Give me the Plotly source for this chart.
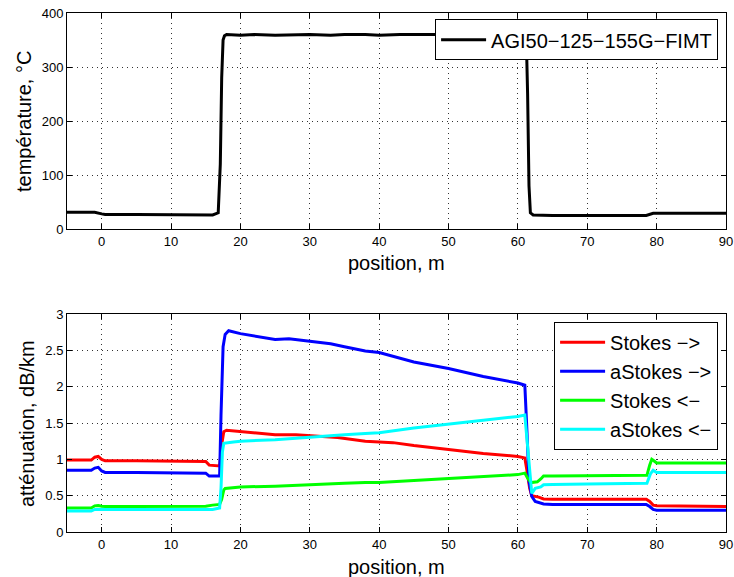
import plotly.graph_objects as go

# ---------------- data ----------------
temp_x = [-5, -2, -1, 0, 0.5, 5, 10, 14, 16, 16.8, 17.1, 17.3, 17.5, 17.7, 18, 20, 22, 25, 28, 30, 33, 35, 38, 40, 43, 45, 48, 50, 53, 55, 58, 60, 61.2, 61.4, 61.6, 61.8, 62.2, 65, 70, 75, 78.5, 79.5, 80, 85, 90]
temp_y = [31, 31, 31, 28, 27, 27, 26, 26, 26, 30, 120, 280, 350, 358, 360, 359, 360, 359, 360, 360, 359, 360, 360, 359, 360, 360, 359, 360, 360, 359, 360, 360, 360, 250, 80, 30, 26, 25, 25, 26, 25, 29, 29, 29, 29]

sf_x = [-5, -1.5, -1, -0.5, 0, 0.5, 5, 10, 15, 15.5, 16, 17, 17.3, 17.6, 18, 20, 22, 25, 28, 30, 34, 38, 40, 42, 45, 50, 55, 60, 61, 61.3, 61.7, 62, 62.5, 63, 63.7, 65, 70, 75, 78.5, 79, 79.5, 80, 85, 90]
sf_y = [0.99, 0.99, 1.03, 1.04, 1.00, 0.98, 0.98, 0.975, 0.97, 0.92, 0.915, 0.91, 1.20, 1.38, 1.40, 1.38, 1.36, 1.34, 1.34, 1.33, 1.30, 1.25, 1.24, 1.23, 1.19, 1.13, 1.08, 1.04, 1.02, 0.85, 0.60, 0.50, 0.49, 0.48, 0.455, 0.45, 0.45, 0.45, 0.45, 0.42, 0.37, 0.36, 0.35, 0.35]

af_x = [-5, -1.5, -1, -0.5, 0, 0.5, 5, 10, 15, 15.5, 16, 17, 17.2, 17.5, 17.8, 18.3, 20, 22, 25, 27, 30, 33, 35, 38, 40, 41.6, 43.5, 45, 50, 55, 60, 61, 61.3, 61.6, 62, 62.5, 63.7, 65, 70, 75, 78.5, 79, 79.5, 80, 85, 90]
af_y = [0.85, 0.85, 0.88, 0.89, 0.84, 0.82, 0.82, 0.815, 0.81, 0.77, 0.77, 0.77, 1.60, 2.55, 2.72, 2.77, 2.73, 2.70, 2.65, 2.66, 2.62, 2.59, 2.55, 2.49, 2.47, 2.43, 2.375, 2.34, 2.25, 2.14, 2.05, 2.02, 1.40, 0.70, 0.49, 0.42, 0.385, 0.38, 0.38, 0.38, 0.38, 0.35, 0.31, 0.30, 0.30, 0.30]

sb_x = [-5, -1.5, -1, -0.5, 0, 0.5, 5, 10, 15, 16, 17, 17.3, 17.6, 17.8, 20, 25, 30, 35, 38, 40, 45, 50, 55, 60, 61, 61.4, 61.9, 62.8, 63.3, 63.7, 65, 70, 75, 78.6, 79.0, 79.3, 79.6, 80, 85, 90]
sb_y = [0.33, 0.33, 0.36, 0.365, 0.355, 0.35, 0.35, 0.35, 0.355, 0.37, 0.38, 0.45, 0.58, 0.60, 0.62, 0.63, 0.655, 0.67, 0.68, 0.68, 0.71, 0.74, 0.765, 0.79, 0.81, 0.74, 0.68, 0.69, 0.73, 0.77, 0.77, 0.775, 0.78, 0.78, 0.92, 1.00, 0.98, 0.95, 0.95, 0.95]

ab_x = [-5, -1.5, -1, -0.5, 0, 0.5, 5, 10, 15, 16, 17, 17.2, 17.4, 17.6, 19, 20, 25, 30, 35, 38, 40, 45, 50, 55, 60, 61, 61.4, 62.0, 62.5, 63.3, 63.7, 65, 70, 75, 78.6, 79.1, 79.5, 80, 85, 90]
ab_y = [0.29, 0.29, 0.31, 0.31, 0.30, 0.30, 0.30, 0.30, 0.30, 0.31, 0.33, 0.60, 1.10, 1.22, 1.24, 1.25, 1.27, 1.31, 1.34, 1.357, 1.366, 1.43, 1.485, 1.53, 1.59, 1.61, 1.20, 0.53, 0.60, 0.62, 0.65, 0.655, 0.66, 0.665, 0.67, 0.80, 0.85, 0.82, 0.82, 0.82]

x_ticks = [0, 10, 20, 30, 40, 50, 60, 70, 80, 90]
temp_ticks = [0, 100, 200, 300, 400]
att_ticks = [0, 0.5, 1, 1.5, 2, 2.5, 3]
att_tick_text = ["0", "0.5", "1", "1.5", "2", "2.5", "3"]

temp_name = "AGI50−125−155G−FIMT"
names = ["Stokes −&gt;", "aStokes −&gt;", "Stokes &lt;−", "aStokes &lt;−"]
colors = ["#ff0000", "#0000ff", "#00ff00", "#00ffff"]
x_title = "position, m"
temp_title = "température, °C"
att_title = "atténuation, dB/km"

FONT = "Liberation Sans, Arial, Helvetica, sans-serif"

fig = go.Figure()
fig.add_trace(go.Scatter(x=temp_x, y=temp_y, mode="lines", name=temp_name, showlegend=True,
                         line=dict(color="black", width=3), xaxis="x", yaxis="y", legend="legend"))
for xs, ys, nm, c in [(sf_x, sf_y, names[0], colors[0]), (af_x, af_y, names[1], colors[1]),
                      (sb_x, sb_y, names[2], colors[2]), (ab_x, ab_y, names[3], colors[3])]:
    fig.add_trace(go.Scatter(x=xs, y=ys, mode="lines", name=nm, line=dict(color=c, width=3),
                             showlegend=True, xaxis="x2", yaxis="y2", legend="legend2"))

axis_common = dict(showline=True, linecolor="black", linewidth=1, mirror="ticks",
                   ticks="inside", ticklen=5, tickcolor="black", tickwidth=1,
                   showgrid=True, gridcolor="#333333", griddash="1px,4px", gridwidth=1,
                   zeroline=False, automargin=False, ticklabeloverflow="allow",
                   tickfont=dict(family=FONT, size=13, color="black"))

title_font = dict(family=FONT, size=20, color="black")

annotations = [
    dict(text=x_title, xref="paper", yref="paper", x=0.5, y=0.5183, xanchor="center", yanchor="middle",
         showarrow=False, font=title_font),
    dict(text=x_title, xref="paper", yref="paper", x=0.5, y=-0.0669, xanchor="center", yanchor="middle",
         showarrow=False, font=title_font),
    dict(text=temp_title, xref="paper", yref="paper", x=-0.0653, y=0.7919, xanchor="center", yanchor="middle",
         showarrow=False, font=title_font, textangle=-90),
    dict(text=att_title, xref="paper", yref="paper", x=-0.0607, y=0.21, xanchor="center", yanchor="middle",
         showarrow=False, font=title_font, textangle=-90),
]

fig.update_layout(
    width=734, height=577,
    margin=dict(l=67, r=8, t=13, b=45),
    paper_bgcolor="white", plot_bgcolor="white",
    showlegend=True,
    font=dict(family=FONT, color="black"),
    annotations=annotations,
    xaxis=dict(domain=[0, 1], range=[-5, 90], tickvals=x_ticks, anchor="y", **axis_common),
    yaxis=dict(domain=[0.5838, 1], range=[0, 400], tickvals=temp_ticks, anchor="x", **axis_common),
    xaxis2=dict(domain=[0, 1], range=[-5, 90], tickvals=x_ticks, anchor="y2", **axis_common),
    yaxis2=dict(domain=[0, 0.42], range=[0, 3], tickvals=att_ticks, ticktext=att_tick_text, anchor="x2",
                **axis_common),
    legend=dict(x=0.988, y=0.988, xanchor="right", yanchor="top", bgcolor="white",
                bordercolor="black", borderwidth=1, font=dict(family=FONT, size=20, color="black"),
                itemwidth=45, tracegroupgap=0),
    legend2=dict(x=0.988, y=0.405, xanchor="right", yanchor="top", bgcolor="white",
                 bordercolor="black", borderwidth=1, font=dict(family=FONT, size=20, color="black"),
                 itemwidth=45, tracegroupgap=0),
)

fig.write_html("out.html", config={"displayModeBar": False},
               post_script="document.body.style.margin='0';document.body.style.overflow='hidden';")
